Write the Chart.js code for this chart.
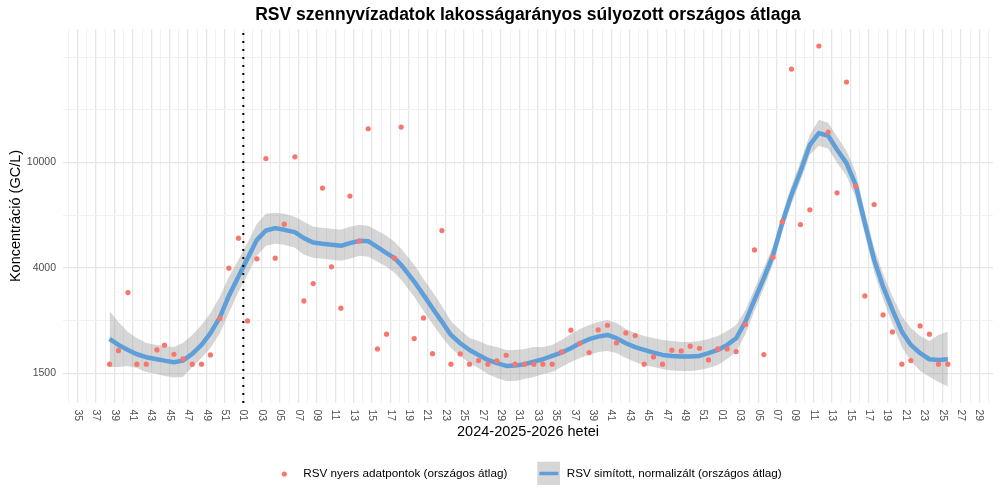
<!DOCTYPE html>
<html lang="hu">
<head>
    <meta charset="UTF-8">
    <title>RSV szennyvízadatok</title>
    <style>
        body {
            margin: 0;
            background-color: #ffffff;
        }
        canvas {
            display: block;
        }
    </style>
    <script src="https://cdn.jsdelivr.net/npm/chart.js"></script>
</head>
<body>
    <canvas id="grafikon" width="1000" height="500"></canvas>

    <script>
        // Hetek: 0 = 2024. 35. hét, a mintavétel napja törtrészként
        const rawWeek = [
            3.46, 4.43, 5.46, 6.43, 7.45, 8.61, 9.43, 10.46, 11.43, 12.45,
            13.46, 14.43, 15.46, 16.43, 17.48, 18.46, 19.48, 20.46, 21.47, 22.45,
            23.61, 24.59, 25.6, 26.61, 27.59, 28.61, 29.59, 30.6, 31.58, 32.59,
            33.57, 34.43, 35.16, 36.58, 37.59, 38.57, 39.59, 40.57, 41.58, 42.59,
            43.57, 44.59, 45.57, 46.58, 47.55, 48.57, 49.59, 50.57, 51.58, 52.59,
            53.61, 54.59, 55.6, 56.58, 57.59, 58.57, 59.59, 60.6, 61.58, 62.59,
            63.57, 64.59, 65.6, 66.58, 67.59, 68.57, 69.59, 70.6, 71.58, 72.59,
            73.57, 74.59, 75.6, 76.58, 77.59, 78.57, 79.59, 80.57, 81.58, 82.55,
            83.57, 84.57, 85.57, 86.58, 87.55, 88.57, 89.59, 90.57, 91.58, 92.59,
            93.57, 94.59
        ];

        // Nyers adatpontok (GC/L)
        const rawValue = [
            1715, 1931, 3207, 1715, 1715, 1943, 2025, 1871, 1796, 1715,
            1715, 1860, 2559, 3970, 5161, 2504, 4307, 10351, 4333, 5832,
            10506, 2982, 3470, 7990, 4015, 2798, 7450, 5027, 13421, 1960,
            2229, 4333, 13622, 2145, 2570, 1881, 5515, 1715, 1876, 1715,
            1770, 1715, 1765, 1855, 1715, 1715, 1715, 1715, 1715, 1909,
            2309, 2060, 1898, 2315, 2411, 2066, 2255, 2202, 1715, 1828,
            1715, 1938, 1926, 2007, 1972, 1780, 1960, 1960, 1915, 2424,
            4657, 1865, 4371, 5951, 22618, 5812, 6609, 27662, 13040, 7668,
            20192, 8131, 3116, 6923, 2639, 2275, 1715, 1770, 2396, 2229,
            1715, 1715
        ];

        // Simított görbe és konfidenciasáv ugyanazokban a pontokban
        const smoothValue = [
            2139, 2030, 1943, 1871, 1823, 1791, 1770, 1745, 1770, 1876,
            2030, 2249, 2586, 3116, 3689, 4317, 5084, 5515, 5632, 5549,
            5438, 5161, 4966, 4910, 4867, 4825, 4940, 5040, 5027, 4770,
            4526, 4333, 4086, 3531, 3143, 2798, 2489, 2215, 2060, 1943,
            1860, 1780, 1730, 1689, 1694, 1715, 1754, 1791, 1844, 1898,
            1972, 2060, 2134, 2183, 2215, 2152, 2060, 1990, 1943, 1898,
            1860, 1844, 1833, 1833, 1844, 1888, 1943, 2030, 2152, 2489,
            3009, 3637, 4459, 5884, 7536, 9238, 11669, 12926, 12624, 11169,
            9943, 8225, 5884, 4269, 3380, 2757, 2280, 2030, 1888, 1791,
            1780, 1791
        ];
        const bandUpper = [
            2733, 2482, 2274, 2158, 2066, 2030, 2012, 1995, 2066, 2215,
            2418, 2685, 3089, 3679, 4269, 4953, 5848, 6382, 6438, 6382,
            6217, 5951, 5696, 5647, 5597, 5549, 5696, 5797, 5747, 5500,
            5266, 4996, 4700, 4086, 3615, 3227, 2855, 2504, 2314, 2158,
            2102, 2030, 1995, 1943, 1943, 1960, 1995, 1995, 2030, 2121,
            2235, 2335, 2418, 2482, 2526, 2460, 2335, 2255, 2196, 2158,
            2121, 2102, 2084, 2084, 2102, 2139, 2196, 2294, 2418, 2757,
            3312, 3980, 4825, 6327, 8153, 10056, 12735, 14520, 14144, 12514,
            11072, 9214, 6495, 4741, 3777, 3116, 2616, 2355, 2196, 2102,
            2215, 2280
        ];
        const bandLower = [
            1675, 1675, 1689, 1660, 1603, 1575, 1548, 1528, 1535, 1675,
            1812, 1977, 2255, 2685, 3227, 3744, 4420, 4825, 4910, 4867,
            4741, 4459, 4344, 4306, 4269, 4231, 4306, 4420, 4382, 4195,
            4015, 3810, 3584, 3089, 2733, 2439, 2177, 1977, 1844, 1734,
            1660, 1575, 1521, 1482, 1482, 1508, 1535, 1575, 1603, 1675,
            1750, 1812, 1860, 1909, 1926, 1893, 1812, 1750, 1704, 1675,
            1646, 1624, 1617, 1617, 1631, 1660, 1704, 1796, 1909, 2235,
            2733, 3341, 4122, 5453, 6966, 8518, 10692, 11567, 11268, 9969,
            8898, 7341, 5312, 3843, 3035, 2439, 1995, 1765, 1617, 1538,
            1469, 1410
        ];

        // X tengely feliratai (minden második hét, 0. indextől)
        const weekLabels = [
            '35', '37', '39', '41', '43', '45', '47', '49', '51',
            '01', '03', '05', '07', '09', '11', '13', '15', '17', '19', '21', '23', '25',
            '27', '29', '31', '33', '35', '37', '39', '41', '43', '45', '47', '49', '51',
            '01', '03', '05', '07', '09', '11', '13', '15', '17', '19', '21', '23', '25', '27', '29'
        ];
        const yearBreakWeek = 18; // 2025. 01. hét

        // Y tengely rácsvonalai és feliratai
        const yTickValues = [1585, 2512, 3981, 6310, 10000, 15849, 25119];
        const yTickLabels = ['1500', '', '4000', '', '10000', '', ''];

        const betu = '"Liberation Sans", Arial, sans-serif';
        const kek = '#5e9fd9';
        const piros = '#F8766D';
        const sav = 'rgba(153, 153, 153, 0.4)';

        Chart.defaults.font.family = betu;

        // Feliratok, pontozott vonal és jelmagyarázat
        const rajzolo = {
            id: 'rajzolo',
            afterDatasetsDraw(chart) {
                const ctx = chart.ctx;
                const area = chart.chartArea;
                const x = chart.scales.x.getPixelForValue(yearBreakWeek);
                ctx.save();
                ctx.strokeStyle = '#000';
                ctx.lineWidth = 2;
                ctx.setLineDash([2, 6]);
                ctx.beginPath();
                ctx.moveTo(x, area.top + 4);
                ctx.lineTo(x, area.bottom);
                ctx.stroke();
                ctx.restore();
            },
            afterDraw(chart) {
                const ctx = chart.ctx;
                const area = chart.chartArea;
                const xs = chart.scales.x;
                const kozep = (area.left + area.right) / 2;
                ctx.save();

                // cím
                ctx.fillStyle = '#000';
                ctx.font = 'bold 17.5px ' + betu;
                ctx.textAlign = 'center';
                ctx.textBaseline = 'alphabetic';
                ctx.fillText('RSV szennyvízadatok lakosságarányos súlyozott országos átlaga', kozep, 19.5);

                // x tengely hetei, elforgatva
                ctx.font = '10.5px ' + betu;
                ctx.fillStyle = '#4d4d4d';
                weekLabels.forEach((lab, i) => {
                    ctx.save();
                    ctx.translate(xs.getPixelForValue(i * 2), area.bottom + 6.5);
                    ctx.rotate(Math.PI / 2);
                    ctx.textAlign = 'left';
                    ctx.textBaseline = 'middle';
                    ctx.fillText(lab, 0, 0);
                    ctx.restore();
                });

                // tengelycímek
                ctx.fillStyle = '#000';
                ctx.font = '14.5px ' + betu;
                ctx.textAlign = 'center';
                ctx.fillText('2024-2025-2026 hetei', kozep, 436);
                ctx.save();
                ctx.translate(20, (area.top + area.bottom) / 2);
                ctx.rotate(-Math.PI / 2);
                ctx.fillText('Koncentráció (GC/L)', 0, 0);
                ctx.restore();

                // jelmagyarázat
                ctx.fillStyle = piros;
                ctx.beginPath();
                ctx.arc(284.3, 474, 2.6, 0, Math.PI * 2);
                ctx.fill();
                ctx.fillStyle = sav;
                ctx.fillRect(537.3, 461.7, 22.7, 23.3);
                ctx.strokeStyle = kek;
                ctx.lineWidth = 3.5;
                ctx.beginPath();
                ctx.moveTo(539.3, 473.5);
                ctx.lineTo(558.3, 473.5);
                ctx.stroke();
                ctx.fillStyle = '#000';
                ctx.font = '11.7px ' + betu;
                ctx.textAlign = 'left';
                ctx.textBaseline = 'middle';
                ctx.fillText('RSV nyers adatpontok (országos átlag)', 303.3, 473.5);
                ctx.fillText('RSV simított, normalizált (országos átlag)', 566.7, 473.5);
                ctx.restore();
            }
        };

        const pontok = (ertekek) => rawWeek.map((w, i) => ({ x: w, y: ertekek[i] }));

        const ctxGrafikon = document.getElementById('grafikon').getContext('2d');
        const grafikon = new Chart(ctxGrafikon, {
            type: 'line',
            data: {
                datasets: [
                    {
                        label: 'RSV nyers adatpontok (országos átlag)',
                        data: pontok(rawValue),
                        showLine: false,
                        pointRadius: 2.6,
                        pointBackgroundColor: piros,
                        pointBorderWidth: 0,
                        order: 0
                    },
                    {
                        label: 'RSV simított, normalizált (országos átlag)',
                        data: pontok(smoothValue),
                        borderColor: kek,
                        borderWidth: 4.5,
                        borderJoinStyle: 'round',
                        pointRadius: 0,
                        tension: 0,
                        fill: false,
                        order: 1
                    },
                    {
                        label: 'felső',
                        data: pontok(bandUpper),
                        borderWidth: 0,
                        pointRadius: 0,
                        backgroundColor: sav,
                        fill: '+1',
                        order: 2
                    },
                    {
                        label: 'alsó',
                        data: pontok(bandLower),
                        borderWidth: 0,
                        pointRadius: 0,
                        fill: false,
                        order: 3
                    }
                ]
            },
            options: {
                responsive: false,
                animation: false,
                devicePixelRatio: 1,
                layout: { padding: { top: 29, right: 7, left: 0, bottom: 0 } },
                plugins: {
                    legend: { display: false },
                    tooltip: { enabled: false }
                },
                scales: {
                    x: {
                        type: 'linear',
                        min: -1.6,
                        max: 99.5,
                        afterBuildTicks: (scale) => {
                            const t = [];
                            for (let w = -1; w <= 99; w++) t.push({ value: w });
                            scale.ticks = t;
                        },
                        afterFit: (scale) => { scale.height = 97; },
                        ticks: { display: false },
                        border: { display: false },
                        grid: {
                            drawTicks: false,
                            color: (c) => (c.tick && c.tick.value % 2 === 0) ? '#e6e6e6' : '#f1f1f1',
                            lineWidth: (c) => (c.tick && c.tick.value % 2 === 0) ? 1.3 : 1
                        }
                    },
                    y: {
                        type: 'logarithmic',
                        min: 1222,
                        max: 32090,
                        afterBuildTicks: (scale) => {
                            scale.ticks = yTickValues.map(v => ({ value: v }));
                        },
                        afterFit: (scale) => { scale.width = 63; },
                        ticks: {
                            padding: 7,
                            color: '#4d4d4d',
                            font: { size: 10.5 },
                            callback: (value, index) => yTickLabels[index]
                        },
                        border: { display: false },
                        grid: {
                            drawTicks: false,
                            color: (c) => (c.tick && yTickLabels[c.index]) ? '#e6e6e6' : '#f1f1f1',
                            lineWidth: (c) => (c.tick && yTickLabels[c.index]) ? 1.3 : 1
                        }
                    }
                }
            },
            plugins: [rajzolo]
        });
    </script>
</body>
</html>
